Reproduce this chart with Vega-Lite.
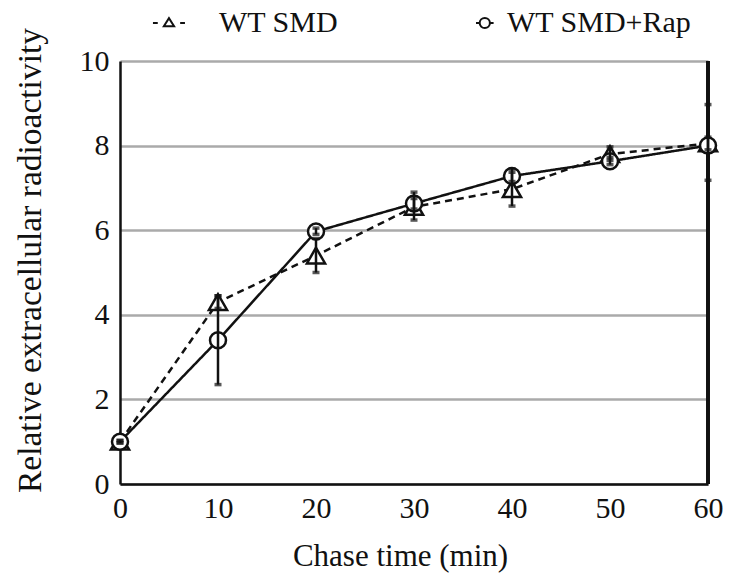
{
  "$schema": "https://vega.github.io/schema/vega-lite/v6.json",
  "width": 588,
  "height": 423,
  "autosize": {"type": "none"},
  "padding": {"left": 120, "top": 61, "right": 46, "bottom": 89},
  "background": "white",
  "config": {
    "view": {"stroke": null},
    "font": "Times New Roman, Liberation Serif, serif",
    "axis": {
      "labelFont": "Times New Roman, Liberation Serif, serif",
      "titleFont": "Times New Roman, Liberation Serif, serif",
      "labelColor": "#111",
      "titleColor": "#111",
      "titleFontWeight": "normal",
      "labelFontSize": 30,
      "titleFontSize": 31,
      "labelFlush": false,
      "ticks": false,
      "domainColor": "#111",
      "domainWidth": 2.5
    },
    "legend": {
      "labelFont": "Times New Roman, Liberation Serif, serif",
      "labelFontSize": 30,
      "labelColor": "#111"
    }
  },
  "data": {
    "values": [
      {"series": "WT SMD", "time": 0, "mean": 1.0, "lo": 0.97, "hi": 1.03},
      {"series": "WT SMD", "time": 10, "mean": 4.3, "lo": 4.15, "hi": 4.45},
      {"series": "WT SMD", "time": 20, "mean": 5.4, "lo": 5.0, "hi": 5.8},
      {"series": "WT SMD", "time": 30, "mean": 6.55, "lo": 6.24, "hi": 6.9},
      {"series": "WT SMD", "time": 40, "mean": 6.97, "lo": 6.57, "hi": 7.37},
      {"series": "WT SMD", "time": 50, "mean": 7.8, "lo": 7.65, "hi": 7.97},
      {"series": "WT SMD", "time": 60, "mean": 8.05, "lo": 7.9, "hi": 8.2},
      {"series": "WT SMD+Rap", "time": 0, "mean": 1.0, "lo": 0.97, "hi": 1.03},
      {"series": "WT SMD+Rap", "time": 10, "mean": 3.4, "lo": 2.35, "hi": 4.45},
      {"series": "WT SMD+Rap", "time": 20, "mean": 5.97, "lo": 5.9, "hi": 6.05},
      {"series": "WT SMD+Rap", "time": 30, "mean": 6.63, "lo": 6.5, "hi": 6.75},
      {"series": "WT SMD+Rap", "time": 40, "mean": 7.28, "lo": 7.15, "hi": 7.45},
      {"series": "WT SMD+Rap", "time": 50, "mean": 7.63, "lo": 7.55, "hi": 7.72},
      {"series": "WT SMD+Rap", "time": 60, "mean": 8.0, "lo": 7.18, "hi": 8.97}
    ]
  },
  "encoding": {
    "x": {
      "field": "time",
      "type": "quantitative",
      "scale": {"domain": [0, 60], "nice": false},
      "axis": {"values": [0, 10, 20, 30, 40, 50, 60], "grid": false, "labelPadding": 9, "labelFlush": false, "title": "Chase time (min)", "titleFontSize": 31, "titleX": 280, "titleY": 81, "titleBaseline": "alphabetic"}
    }
  },
  "layer": [
    {
      "mark": {"type": "rule", "color": "#111", "strokeWidth": 2.5},
      "encoding": {"x": {"datum": 60}, "y": null}
    },
    {
      "mark": {"type": "line", "color": "#111", "strokeWidth": 2.5},
      "encoding": {
        "y": {
          "field": "mean",
          "type": "quantitative",
          "scale": {"domain": [0, 10], "nice": false},
          "axis": {"values": [0, 2, 4, 6, 8, 10], "grid": true, "gridColor": "#aaaaaa", "gridWidth": 2.5, "labelPadding": 11, "labelFlush": false, "title": "Relative extracellular radioactivity", "titleFontSize": 33.5, "titleX": -80, "titleY": 199, "titleBaseline": "alphabetic"}
        },
        "strokeDash": {
          "field": "series",
          "type": "nominal",
          "scale": {"domain": ["WT SMD", "WT SMD+Rap"], "range": [[7, 5], [1, 0]]},
          "legend": null
        }
      }
    },
    {
      "mark": {"type": "point", "filled": false, "fill": "white", "fillOpacity": 1, "stroke": "#111", "strokeWidth": 2.5, "opacity": 1},
      "encoding": {
        "y": {"field": "mean", "type": "quantitative"},
        "shape": {
          "field": "series",
          "type": "nominal",
          "scale": {"domain": ["WT SMD", "WT SMD+Rap"], "range": ["triangle-up", "circle"]},
          "legend": null
        },
        "size": {
          "field": "series",
          "type": "nominal",
          "scale": {"domain": ["WT SMD", "WT SMD+Rap"], "range": [330, 256]},
          "legend": null
        }
      }
    },
    {
      "mark": {"type": "rule", "color": "#111", "strokeWidth": 2.5},
      "encoding": {
        "y": {"field": "lo", "type": "quantitative"},
        "y2": {"field": "hi"}
      }
    },
    {
      "mark": {"type": "tick", "color": "#111", "size": 7, "thickness": 3.5, "orient": "horizontal"},
      "encoding": {"y": {"field": "lo", "type": "quantitative"}}
    },
    {
      "mark": {"type": "tick", "color": "#111", "size": 7, "thickness": 3.5, "orient": "horizontal"},
      "encoding": {"y": {"field": "hi", "type": "quantitative"}}
    },
    {
      "mark": {"type": "point", "opacity": 0, "size": 1024},
      "encoding": {
        "y": {"field": "mean", "type": "quantitative"},
        "shape": {
          "field": "series",
          "type": "nominal",
          "title": null,
          "scale": {
            "domain": ["WT SMD", "WT SMD+Rap"],
            "range": [
              "M-2.19,0H-1.89M-0.49,0H-0.19M-1.51,0.2L-1.19,-0.3L-0.87,0.2Z",
              "M0,0H0.23M0.87,0H1.1M0.87,0A0.32,0.32,0,1,1,0.23,0A0.32,0.32,0,1,1,0.87,0"
            ]
          },
          "legend": {
            "orient": "none",
            "direction": "horizontal",
            "legendX": 51,
            "legendY": -55,
            "padding": 0,
            "symbolSize": 1024,
            "symbolOpacity": 1,
            "symbolFillColor": "transparent",
            "symbolStrokeColor": "#111",
            "symbolStrokeWidth": 2,
            "labelOffset": 14,
            "labelLimit": 400,
            "columnPadding": 120,
            "labelFont": "Times New Roman, Liberation Serif, serif",
            "labelFontSize": 30,
            "labelColor": "#111"
          }
        }
      }
    }
  ],
  "resolve": {"scale": {"shape": "independent"}}
}
